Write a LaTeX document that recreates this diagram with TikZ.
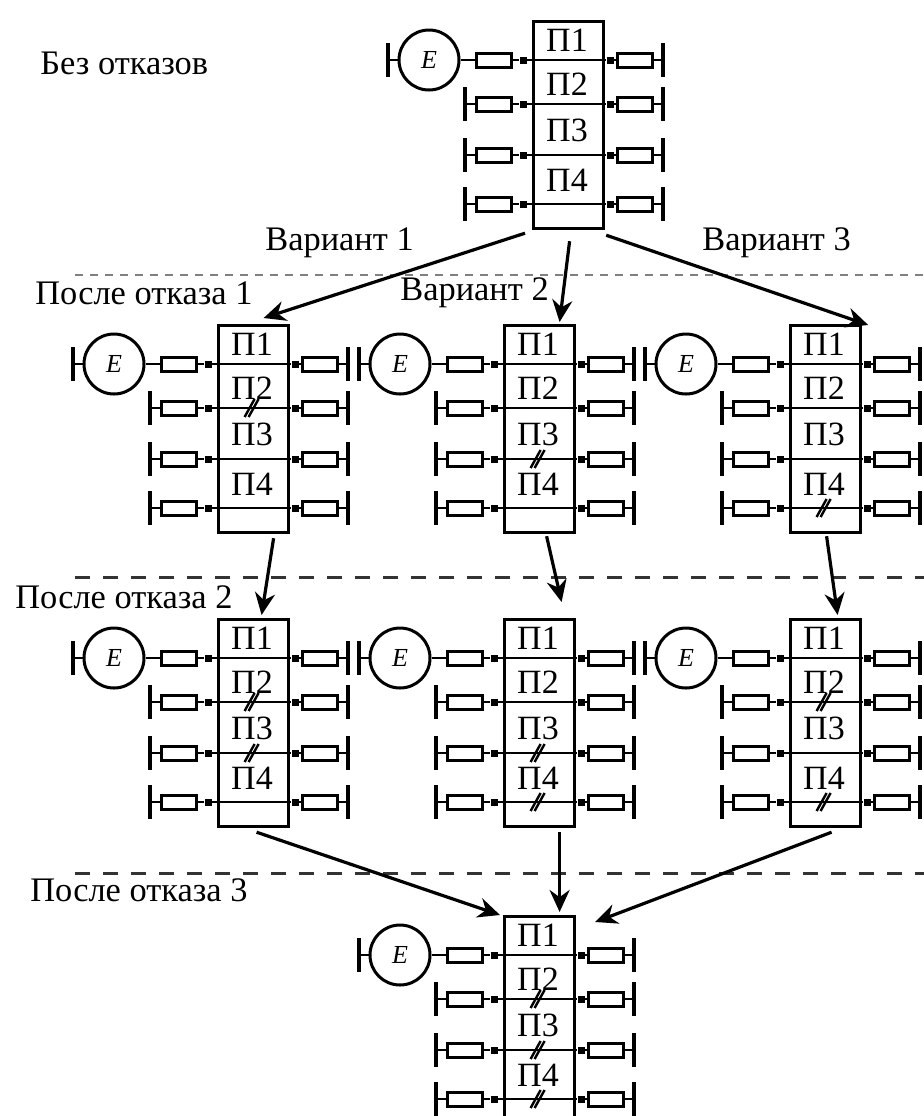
\documentclass[tikz,border=0pt]{standalone}
\usepackage{fontspec}
\setmainfont{Liberation Serif}
\usetikzlibrary{calc,arrows.meta}
\tikzset{
  blk/.style={draw,line width=1.6pt,anchor=north west,minimum width=35pt,minimum height=103.5pt,inner sep=0pt},
  res/.style={draw,line width=1.5pt,minimum width=17.5pt,minimum height=7pt,inner sep=0pt},
  pt/.style={fill,minimum size=3.5pt,inner sep=0pt},
  barv/.style={fill,minimum width=1.8pt,minimum height=17pt,inner sep=0pt},
  motor/.style={circle,draw,line width=1.5pt,minimum size=30pt,inner sep=0pt,font=\fontsize{13}{13}\selectfont\itshape},
  lbl/.style={inner sep=0pt,font=\fontsize{17}{17}\selectfont},
  capt/.style={inner sep=0pt,anchor=west,font=\fontsize{17.2}{17.2}\selectfont},
  wire/.style={line width=1pt},
  brk/.style={line width=1.2pt},
  arr/.style={line width=1.6pt,-{Stealth[length=11pt,width=10pt]}},
  sep1/.style={line width=0.8pt,gray,dash pattern=on 4pt off 3.5pt},
  sep2/.style={line width=1.5pt,black!80,dash pattern=on 7.5pt off 6.5pt}
}
\begin{document}
\begin{tikzpicture}[x=0.5pt,y=-0.5pt]
\useasboundingbox (0,0) rectangle (924,1116);
% blocks
\foreach \n/\x/\y in {t/532/20,a1/217/324,a2/503/324,a3/789/324,b1/217/618,b2/503/618,b3/789/618,c/503/915}{
  \node[blk] (\n) at (\x,\y) {};
  \foreach \i/\d in {1/20,2/64,3/110,4/160}{\node[lbl] (\n-p\i) at (\x+35,\y+\d) {П\i};}
  \foreach \i/\d in {1/40,2/84,3/135,4/184}{
    \node[res] (\n-lr\i) at (\x-38,\y+\d) {};
    \node[res] (\n-rr\i) at (\x+103,\y+\d) {};
    \node[pt] (\n-ld\i) at (\x-9,\y+\d) {};
    \node[pt] (\n-rd\i) at (\x+78,\y+\d) {};
    \node[barv] (\n-rb\i) at (\x+131,\y+\d) {};
    \draw[wire] (\n-lr\i)--(\n-ld\i)--(\n-rd\i)--(\n-rr\i)--(\n-rb\i);
  }
  \foreach \i/\d in {2/84,3/135,4/184}{
    \node[barv] (\n-lb\i) at (\x-67,\y+\d) {};
    \draw[wire] (\n-lb\i)--(\n-lr\i);
  }
  \node[motor] (\n-m) at (\x-103,\y+40) {E};
  \node[barv] (\n-lb1) at (\x-144,\y+40) {};
  \draw[wire] (\n-lb1)--(\n-m)--(\n-lr1);
}
% failed sections
\foreach \n/\i/\d in {a1/2/84,a2/3/135,a3/4/184,b1/2/84,b1/3/135,b2/3/135,b2/4/184,b3/2/84,b3/4/184,c/2/84,c/3/135,c/4/184}{
  \coordinate (\n-k\i) at ($(\n.north)+(-2,\d)$);
  \draw[brk] ($(\n-k\i)+(-7,9)$)--($(\n-k\i)+(3,-9)$);
  \draw[brk] ($(\n-k\i)+(-3,9)$)--($(\n-k\i)+(7,-9)$);
}
% captions
\node[capt] (s0) at (40,63) {Без отказов};
\node[capt] (s1) at (35,293) {После отказа 1};
\node[capt] (s2) at (15,597) {После отказа 2};
\node[capt] (s3) at (30,890) {После отказа 3};
\node[capt] (v1) at (265,243) {Вариант 1};
\node[capt] (v2) at (400,293) {Вариант 2};
\node[capt] (v3) at (702,243) {Вариант 3};
% separators
\coordinate (d1a) at (75,275); \coordinate (d1b) at (924,275);
\coordinate (d2a) at (75,577); \coordinate (d2b) at (924,577);
\coordinate (d3a) at (75,873); \coordinate (d3b) at (924,873);
\draw[sep1] (d1a)--(d1b);
\draw[sep2] (d2a)--(d2b);
\draw[sep2] (d3a)--(d3b);
% arrows
\draw[arr] ($(t.south west)+(-7,3)$)--($(a1.north)+(10,-6)$);
\draw[arr] ($(t.south)+(1,11)$)--($(a2.north)+(20,-2)$);
\draw[arr] ($(t.south east)+(1,5)$)--($(a3.north east)+(6,1)$);
\draw[arr] ($(a1.south)+(20,4)$)--($(b1.north)+(8,-3)$);
\draw[arr] ($(a2.south)+(7,2)$)--($(b2.north)+(22,-16)$);
\draw[arr] ($(a3.south)+(1,2)$)--($(b3.north)+(12,-3)$);
\draw[arr] ($(b1.south)+(3,4)$)--($(c.north west)+(-3,0)$);
\draw[arr] ($(b2.south)+(20,4)$)--($(c.north)+(20,-3)$);
\draw[arr] ($(b3.south)+(6,4)$)--($(c.north east)+(19,7)$);
\end{tikzpicture}
\end{document}
